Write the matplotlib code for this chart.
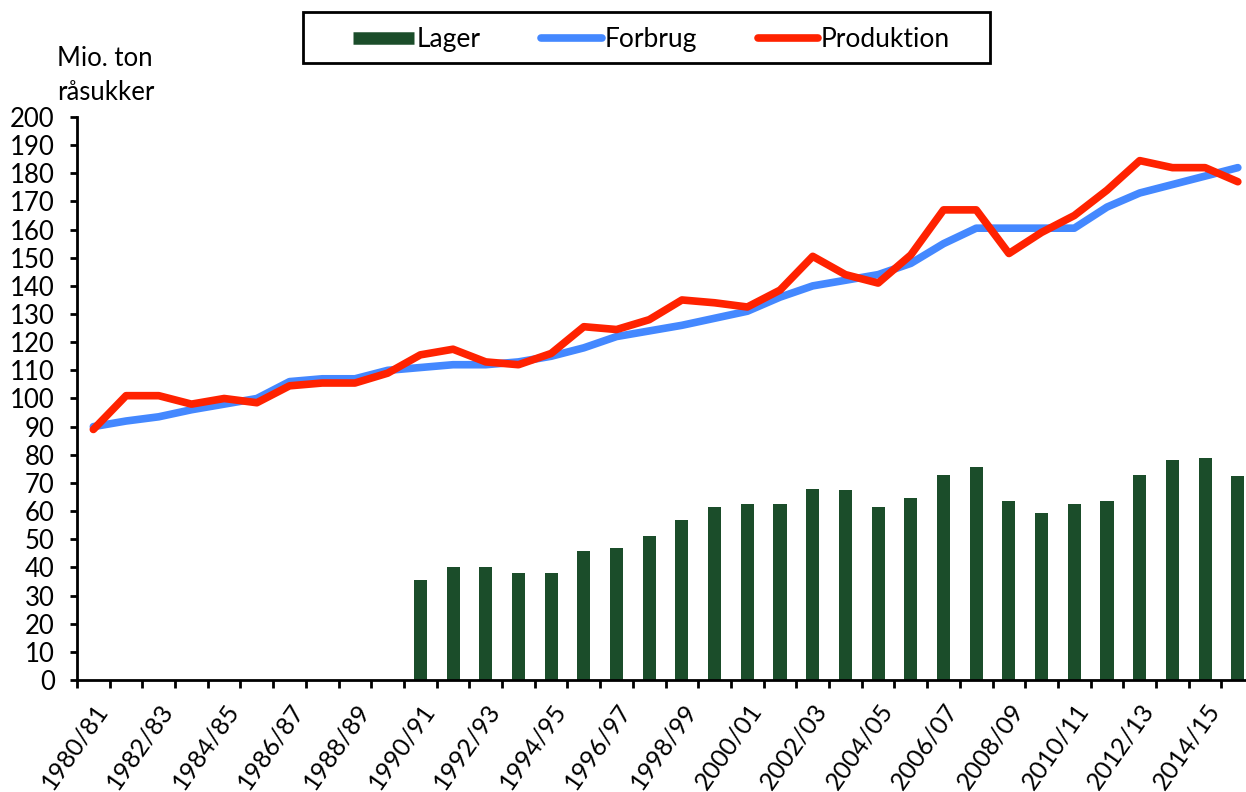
import numpy as np
import matplotlib.pyplot as plt
from matplotlib.lines import Line2D
from matplotlib.patches import Rectangle

plt.rcParams['font.family'] = ['Lato', 'DejaVu Sans']

# -------------------------------------------------------
# Data (mio. ton raw sugar)
# -------------------------------------------------------

seasons = [f"{y}/{str(y + 1)[-2:]}" for y in range(1980, 2016)]

forbrug = [90, 92, 93.5, 96, 98, 100, 106, 107, 107, 110,
           111, 112, 112, 113, 115, 118, 122, 124, 126, 128.5,
           131, 136, 140, 142, 144, 148, 155, 160.5, 160.5, 160.5,
           160.5, 168, 173, 176, 179, 182]

produktion = [89, 101, 101, 98, 100, 98.5, 104.5, 105.5, 105.5, 109,
              115.5, 117.5, 113, 112, 116, 125.5, 124.5, 128, 135, 134,
              132.5, 138.5, 150.5, 144, 141, 151, 167, 167, 151.5, 159,
              165, 174, 184.5, 182, 182, 177]

# stock only reported from 1990/91
lager = [np.nan] * 10 + [35.5, 40, 40, 38, 38, 46, 47, 51, 57, 61.5,
                         62.5, 62.5, 68, 67.5, 61.5, 64.5, 73, 75.5, 63.5, 59.5,
                         62.5, 63.5, 73, 78, 79, 72.5]

green = "#1b4d2a"
blue = "#4488ff"
red = "#ff2200"

# -------------------------------------------------------
# Plot
# -------------------------------------------------------

x = np.arange(len(seasons))

fig = plt.figure(figsize=(12.46, 7.92), dpi=100)
ax = fig.add_axes([0.0618, 0.1414, 0.9382, 0.7109])

ax.bar(x, lager, width=0.4, color=green, zorder=2)
ax.plot(x, forbrug, color=blue, lw=5.5, solid_capstyle="round", zorder=3)
ax.plot(x, produktion, color=red, lw=5.5, solid_capstyle="round", zorder=4)

ax.set_xlim(-0.5, 35.25)
ax.set_ylim(0, 200)
ax.set_yticks(np.arange(0, 201, 10))

ax.set_xticks(np.arange(-0.5, 35.5, 1), minor=False)
ax.set_xticklabels([])
ax.set_xticks(x[::2], minor=True)
ax.set_xticklabels(seasons[::2], minor=True, rotation=55,
                   ha="right", rotation_mode="anchor", fontsize=18)
ax.tick_params(axis="x", which="minor", length=0, pad=14)
ax.tick_params(axis="x", which="major", length=6, width=2, direction="out")
ax.tick_params(axis="y", length=5, width=2, direction="out", labelsize=18.5, pad=11)

for side in ("top", "right"):
    ax.spines[side].set_visible(False)
ax.spines["left"].set_linewidth(2)
ax.spines["bottom"].set_linewidth(2)

fig.text(0.046, 0.868, "Mio. ton\nråsukker", fontsize=18.5, va="bottom",
         ha="left", linespacing=1.45)

# legend with a hand-drawn frame (wide Excel-style box)
handles = [
    Line2D([], [], color=green, lw=9, solid_capstyle="butt"),
    Line2D([], [], color=blue, lw=5.5, solid_capstyle="round"),
    Line2D([], [], color=red, lw=5.5, solid_capstyle="round"),
]
fig.legend(handles, ["Lager", "Forbrug", "Produktion"], loc="center",
           bbox_to_anchor=(0.523, 0.950), ncol=3, fontsize=19,
           frameon=False, handlelength=2.3, handletextpad=0.1,
           columnspacing=2.3)
fig.patches.append(Rectangle((0.2432, 0.9205), 0.5514, 0.0644,
                             transform=fig.transFigure, fill=False,
                             edgecolor="black", lw=2))

fig.savefig("out.png", dpi=100)
